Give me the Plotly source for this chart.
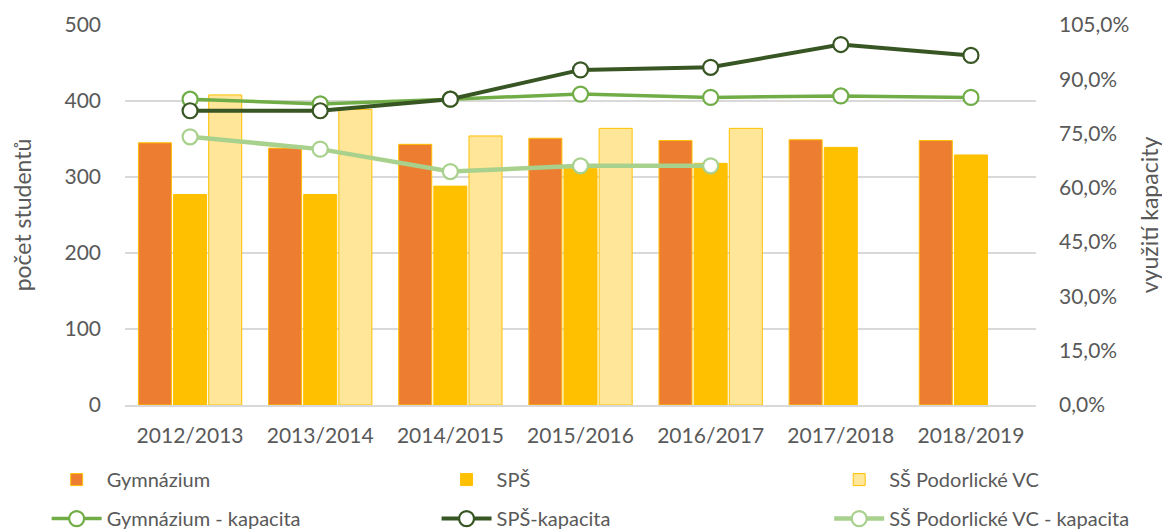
import plotly.graph_objects as go

years = ["2012/2013", "2013/2014", "2014/2015", "2015/2016", "2016/2017", "2017/2018", "2018/2019"]

gym_students = [345, 338, 343, 351, 348, 349, 348]
sps_students = [277, 277, 288, 311, 318, 339, 329]
ss_students = [408, 389, 354, 364, 364, None, None]

gym_capacity = [0.845, 0.832, 0.845, 0.859, 0.850, 0.854, 0.850]
sps_capacity = [0.813, 0.813, 0.845, 0.926, 0.933, 0.996, 0.966]
ss_capacity = [0.741, 0.707, 0.645, 0.661, 0.661, None, None]

FONT = "Lato"
TXT = "#595959"
GRID = "#D9D9D9"

fig = go.Figure()

bar_specs = [
    ("Gymnázium", gym_students, "#ED7D31", "legend"),
    ("SPŠ", sps_students, "#FFC000", "legend2"),
    ("SŠ Podorlické VC", ss_students, "#FFE699", "legend3"),
]
for name, vals, col, lg in bar_specs:
    fig.add_trace(go.Bar(
        x=years, y=vals, name=name,
        marker=dict(color=col, line=dict(color="#FFC000", width=1)),
        legend=lg, legendgroup=name,
    ))

line_specs = [
    ("Gymnázium - kapacita", gym_capacity, "#70AD47", 3.5, "legend"),
    ("SPŠ-kapacita", sps_capacity, "#375623", 4, "legend2"),
    ("SŠ Podorlické VC - kapacita", ss_capacity, "#A9D18E", 4.5, "legend3"),
]
for name, vals, col, w, lg in line_specs:
    fig.add_trace(go.Scatter(
        x=years, y=vals, name=name, yaxis="y2",
        mode="lines+markers",
        line=dict(color=col, width=w),
        marker=dict(size=15, color="white", line=dict(color=col, width=2.2)),
        legend=lg, legendgroup=name,
    ))

leg_common = dict(
    orientation="v", yanchor="top", y=-0.145, xanchor="left",
    font=dict(family=FONT, size=20, color=TXT),
    bgcolor="rgba(0,0,0,0)", tracegroupgap=10, itemwidth=50,
)

fig.update_layout(
    width=1162, height=522,
    margin=dict(l=117, r=134, t=17, b=125, autoexpand=False),
    plot_bgcolor="white", paper_bgcolor="white",
    separators=", ",
    barmode="group", bargap=0.19, bargroupgap=0.06,
    font=dict(family=FONT, size=20, color=TXT),
    xaxis=dict(
        type="category", showgrid=False, showline=True, linecolor=GRID, linewidth=1.5,
        ticks="", tickfont=dict(family=FONT, size=21, color=TXT), ticklabelstandoff=11,
    ),
    yaxis=dict(
        range=[0, 500], dtick=100, showgrid=True, gridcolor=GRID, gridwidth=1.5,
        zeroline=False, ticks="", ticklabelstandoff=23,
        tickfont=dict(family=FONT, size=21, color=TXT),
        title=dict(text="počet studentů", font=dict(family=FONT, size=23, color=TXT), standoff=42),
    ),
    yaxis2=dict(
        overlaying="y", side="right", range=[0, 1.05], dtick=0.15, tickformat=".1%",
        showgrid=False, zeroline=False, ticks="", ticklabelstandoff=22,
        tickfont=dict(family=FONT, size=21, color=TXT),
        title=dict(text="využití kapacity", font=dict(family=FONT, size=23, color=TXT), standoff=13),
    ),
    legend=dict(x=-0.086, **leg_common),
    legend2=dict(x=0.342, **leg_common),
    legend3=dict(x=0.773, **leg_common),
)

fig.write_html("out.html")
